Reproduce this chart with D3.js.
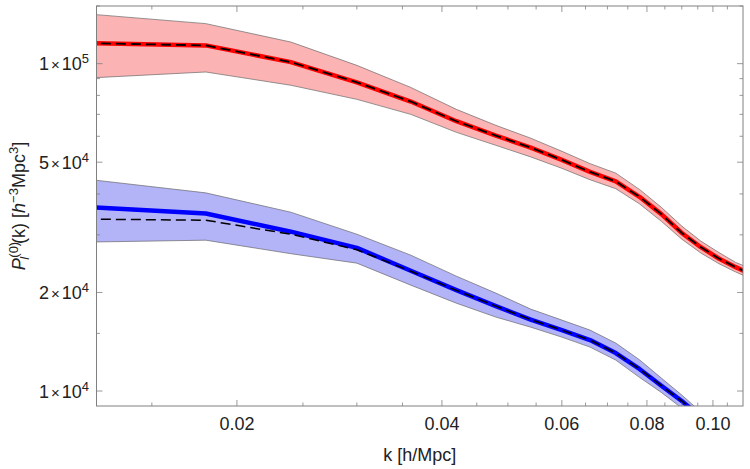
<!DOCTYPE html>
<html><head><meta charset="utf-8">
<script src="https://cdn.jsdelivr.net/npm/d3@7"></script>
<style>body{margin:0;background:#fff}svg{display:block}</style></head>
<body><svg id="c" width="750" height="469"></svg>
<script>
// k values (h/Mpc)
const kValues = [0.012,0.018,0.024,0.030,0.036,0.042,0.048,0.054,0.060,0.066,0.072,0.078,0.084,0.090,0.096,0.102,0.108,0.114];
// red (upper) series
const redCenter = [115500,113700,101100,87700,76600,66700,60300,55400,50800,46700,43700,39200,34700,30400,27500,25400,23900,22700];
const redUpper  = [142000,132500,116400,98800,84600,72500,64800,59200,54000,49500,46300,41300,36400,31900,28700,26500,24700,23600];
const redLower  = [90300,94300,85900,77800,70000,61700,56300,51900,47900,44200,41500,37300,33000,29100,26400,24500,23100,22000];
const redModel  = [115500,113700,101100,87700,76600,66700,60300,55400,50800,46700,43700,39200,34700,30400,27500,25400,23900,22700];
// blue (lower) series
const blueCenter = [36500,34850,30670,27370,23310,20330,18170,16520,15350,14310,13060,11680,10380,9320,8330,7440];
const blueUpper  = [44400,40300,35170,30130,26000,22430,19910,17790,16470,15350,14010,12460,10950,9720,8630,7710];
const blueLower  = [28500,28890,26270,24580,21060,18550,16820,15670,14610,13620,12430,11010,9900,8870,7930,7090];
const blueModel  = [33500,33250,30130,27020,23230,20300,18170,16520,15350,14310,13060,11680,10380,9320,8330,7440];
// axis ticks
const xMajorTicks = [0.02,0.04,0.06,0.08,0.10];
const xMinorTicks = [0.015,0.025,0.03,0.035,0.045,0.05,0.055,0.065,0.07,0.075,0.085,0.09,0.095,0.105];
const yMajorTicks = [10000,20000,50000,100000];
const yMajorMant  = ["1","2","5","1"];
const yMajorExp   = ["4","4","4","5"];
const yMinorTicks = [15000,30000,40000,60000,70000,80000,90000,150000];

const svg = d3.select("#c");
const L = 96.5, R = 743, T = 6, B = 406;
const x = d3.scaleLog().domain([0.01244, 0.1107]).range([L, R]);
const y = d3.scaleLog().domain([9000, 150000]).range([B, T]);
const font = "'Liberation Sans', Arial, sans-serif";

svg.append("defs").append("clipPath").attr("id","clip")
  .append("rect").attr("x",L).attr("y",T).attr("width",R-L).attr("height",B-T);
const g = svg.append("g").attr("clip-path","url(#clip)");

function band(upper, lower, fill) {
  const idx = d3.range(upper.length);
  const area = d3.area().x(i => x(kValues[i])).y0(i => y(lower[i])).y1(i => y(upper[i]));
  g.append("path").datum(idx).attr("d", area).attr("fill", fill).attr("stroke","none");
  g.append("path").datum(idx).attr("d", d3.line().x(i => x(kValues[i])).y(i => y(upper[i])))
    .attr("fill","none").attr("stroke","#6a6a6a").attr("stroke-width",0.7);
  g.append("path").datum(idx).attr("d", d3.line().x(i => x(kValues[i])).y(i => y(lower[i])))
    .attr("fill","none").attr("stroke","#6a6a6a").attr("stroke-width",0.7);
}
function line(vals, color, width, dash) {
  const idx = d3.range(vals.length);
  const p = g.append("path").datum(idx)
    .attr("d", d3.line().x(i => x(kValues[i])).y(i => y(vals[i])))
    .attr("fill","none").attr("stroke", color).attr("stroke-width", width)
    .attr("stroke-linejoin","round");
  if (dash) p.attr("stroke-dasharray", dash);
}

band(redUpper, redLower, "#fbb3b3");
band(blueUpper, blueLower, "#b3b3f8");
line(redCenter, "#ff0000", 4.5);
line(redModel, "#000000", 1.8, "10,5");
line(blueCenter, "#0000ff", 4.5);
line(blueModel, "#000000", 1.5, "10,5");

// frame
svg.append("rect").attr("x",L).attr("y",T).attr("width",R-L).attr("height",B-T)
  .attr("fill","none").attr("stroke","#808080").attr("stroke-width",1);

const tk = svg.append("g").attr("stroke","#808080").attr("stroke-width",0.8);
function xt(v, len) {
  tk.append("line").attr("x1",x(v)).attr("x2",x(v)).attr("y1",B).attr("y2",B-len);
  tk.append("line").attr("x1",x(v)).attr("x2",x(v)).attr("y1",T).attr("y2",T+len);
}
function yt(v, len) {
  tk.append("line").attr("x1",L).attr("x2",L+len).attr("y1",y(v)).attr("y2",y(v));
  tk.append("line").attr("x1",R).attr("x2",R-len).attr("y1",y(v)).attr("y2",y(v));
}
xMajorTicks.forEach(v => xt(v, 6));
xMinorTicks.forEach(v => xt(v, 3.5));
yMajorTicks.forEach(v => yt(v, 6));
yMinorTicks.forEach(v => yt(v, 3.5));

// x tick labels
svg.append("g").selectAll("text").data(xMajorTicks).join("text")
  .attr("x", d => x(d)).attr("y", 429.5)
  .attr("text-anchor","middle").attr("font-family",font).attr("font-size",18).attr("fill","#222")
  .text(d => d3.format(".2f")(d));

// y tick labels
yMajorTicks.forEach((v,i) => {
  const t = svg.append("text").attr("x", 89).attr("y", y(v)+6.5)
    .attr("text-anchor","end").attr("font-family",font).attr("font-size",18).attr("fill","#222");
  t.append("tspan").text(yMajorMant[i]);
  t.append("tspan").attr("font-size",15).attr("dx",2).text("×");
  t.append("tspan").attr("dx",2).text("10");
  t.append("tspan").attr("font-size",13).attr("dy",-7).text(yMajorExp[i]);
});

// axis titles
svg.append("text").attr("x", (L+R)/2).attr("y", 461)
  .attr("text-anchor","middle").attr("font-family",font).attr("font-size",18).attr("fill","#222")
  .text("k [h/Mpc]");

const yt2 = svg.append("text").attr("transform","translate(25,206) rotate(-90)")
  .attr("text-anchor","middle").attr("font-family",font).attr("font-size",18).attr("fill","#222");
yt2.append("tspan").attr("font-style","italic").text("P");
yt2.append("tspan").attr("font-size",13).attr("dy",-7).attr("dx",0.5).text("(0)");
yt2.append("tspan").attr("font-size",13).attr("font-style","italic").attr("dy",11).attr("dx",-18).text("l");
yt2.append("tspan").attr("dy",-4).attr("dx",13).text("(k) [");
yt2.append("tspan").attr("font-style","italic").text("h");
yt2.append("tspan").attr("font-size",13).attr("dy",-7).text("−3");
yt2.append("tspan").attr("dy",7).text("Mpc");
yt2.append("tspan").attr("font-size",13).attr("dy",-7).text("3");
yt2.append("tspan").attr("dy",7).text("]");
</script>
</body></html>
